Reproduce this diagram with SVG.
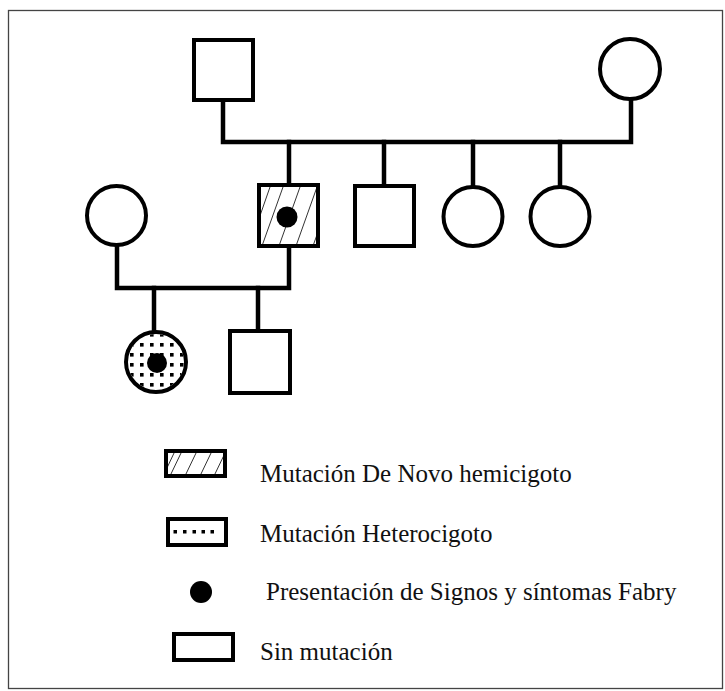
<svg xmlns="http://www.w3.org/2000/svg" width="725" height="691" viewBox="0 0 725 691">
<style>
.sym{fill:#fff;stroke:#000;stroke-width:4}
.ln{fill:none;stroke:#000;stroke-width:4.5;stroke-linecap:square;stroke-linejoin:miter}
.hatch{stroke:#333;stroke-width:1}
.dot{fill:#000}
.lbl{font-family:"Liberation Serif","Times New Roman",serif;font-size:25px;fill:#111}
</style>
<defs>
<pattern id="dots" patternUnits="userSpaceOnUse" x="140" y="343" width="10" height="10">
<rect x="0" y="0" width="3.6" height="3.6" fill="#000"/>
</pattern>
<clipPath id="clipSq"><rect x="261" y="187" width="55" height="57"/></clipPath>
<clipPath id="clipLeg"><rect x="168" y="453" width="55" height="21"/></clipPath>
<clipPath id="clipCirc"><circle cx="156" cy="362" r="28"/></clipPath>
</defs>
<rect x="8.5" y="10.5" width="714" height="678" fill="#fff" stroke="#444" stroke-width="1.3"/>
<g id="connectors">
<polyline class="ln" points="223,100 223,142 631,142 631,100"/>
<line class="ln" x1="289" y1="142" x2="289" y2="185"/>
<line class="ln" x1="384" y1="142" x2="384" y2="185"/>
<line class="ln" x1="473" y1="142" x2="473" y2="186"/>
<line class="ln" x1="560" y1="142" x2="560" y2="186"/>
<polyline class="ln" points="117,245 117,288 289,288 289,246"/>
<line class="ln" x1="154" y1="288" x2="154" y2="332"/>
<line class="ln" x1="258" y1="288" x2="258" y2="331"/>
</g>
<g id="grandfather"><rect class="sym" x="194" y="40" width="59" height="60"/></g>
<g id="grandmother"><circle class="sym" cx="630" cy="69" r="30"/></g>
<g id="mother"><circle class="sym" cx="116.5" cy="215.5" r="29.5"/></g>
<g id="father">
<rect class="sym" x="259" y="185" width="59" height="61"/>
<g clip-path="url(#clipSq)" class="hatch">
<line x1="255" y1="230" x2="270" y2="187"/>
<line x1="262" y1="246" x2="283" y2="187"/>
<line x1="279" y1="246" x2="300" y2="187"/>
<line x1="296" y1="246" x2="317" y2="187"/>
<line x1="313" y1="246" x2="334" y2="187"/>
</g>
<circle class="dot" cx="287" cy="217" r="10.5"/>
</g>
<g id="uncle"><rect class="sym" x="355" y="186" width="59" height="60"/></g>
<g id="aunt1"><circle class="sym" cx="473" cy="216.5" r="29.5"/></g>
<g id="aunt2"><circle class="sym" cx="560" cy="216.5" r="29.5"/></g>
<g id="daughter">
<circle class="sym" cx="156" cy="362" r="30"/>
<rect x="126" y="332" width="60" height="60" fill="url(#dots)" clip-path="url(#clipCirc)"/>
<circle class="dot" cx="157" cy="363" r="10"/>
</g>
<g id="son"><rect class="sym" x="230" y="331" width="60" height="62"/></g>
<g id="legend">
<rect class="sym" x="166" y="451" width="59" height="25"/>
<g clip-path="url(#clipLeg)" class="hatch">
<line x1="166" y1="470" x2="175" y2="451"/>
<line x1="170" y1="476" x2="182" y2="451"/>
<line x1="185" y1="476" x2="197" y2="451"/>
<line x1="200" y1="476" x2="212" y2="451"/>
<line x1="214" y1="476" x2="226" y2="451"/>
</g>
<text class="lbl" x="260" y="482">Mutación De Novo hemicigoto</text>
<rect class="sym" x="168" y="519" width="58" height="26"/>
<g fill="#000">
<rect x="173.5" y="530" width="3.5" height="3.5"/>
<rect x="183" y="530" width="3.5" height="3.5"/>
<rect x="192.5" y="530" width="3.5" height="3.5"/>
<rect x="201.5" y="530" width="3.5" height="3.5"/>
<rect x="210.5" y="530" width="3.5" height="3.5"/>
</g>
<text class="lbl" x="260" y="542">Mutación Heterocigoto</text>
<circle class="dot" cx="201" cy="592" r="11"/>
<text class="lbl" x="266" y="600">Presentación de Signos y síntomas Fabry</text>
<rect class="sym" x="174" y="634" width="59" height="26"/>
<text class="lbl" x="260" y="660">Sin mutación</text>
</g>
</svg>
